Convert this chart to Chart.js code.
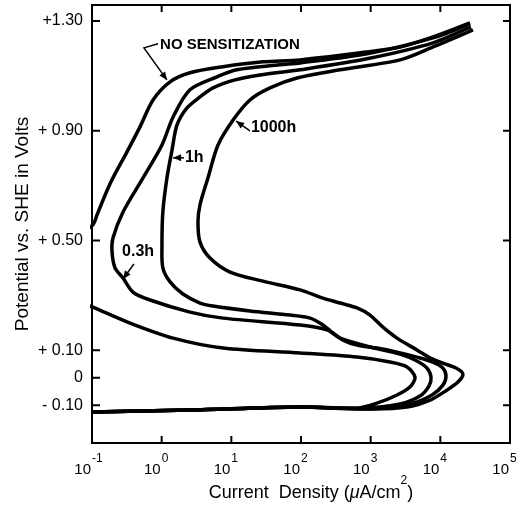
<!DOCTYPE html>
<html>
<head>
<meta charset="utf-8">
<script src="https://cdn.jsdelivr.net/npm/chart.js@4.4.1/dist/chart.umd.min.js"></script>
<style>
  html, body { margin: 0; padding: 0; background: #fff; }
</style>
</head>
<body>
<canvas id="polCurve" width="529" height="514"></canvas>
<script>
// current density (uA/cm2) and potential (V vs SHE)
// each curve runs: cathodic branch -> anodic nose -> passive region -> transpassive
const noSensI = [0.1, 2.55, 97, 637, 1230, 2390, 3660, 4330, 3320, 1890, 637, 97, 7.6, 1.46, 0.351, 0.103, 0.05, 0.05, 0.103, 0.118, 0.181, 0.318, 0.489, 0.752, 1.32, 2.55, 7.6, 28.4, 97, 885, 2640, 7850, 26700];
const noSensE = [-0.125, -0.118, -0.107, -0.111, -0.093, -0.063, -0.034, 0.002, 0.039, 0.057, 0.075, 0.090, 0.108, 0.144, 0.199, 0.257, 0.29, 0.49, 0.557, 0.593, 0.706, 0.823, 0.914, 1.012, 1.078, 1.111, 1.133, 1.151, 1.158, 1.187, 1.205, 1.242, 1.293];

const h03I = [0.1, 2.55, 97, 776, 2640, 5100, 6870, 7350, 6430, 4620, 2640, 977, 363, 236, 97, 7.6, 2.55, 0.681, 0.387, 0.279, 0.214, 0.194, 0.200, 0.279, 0.540, 1.01, 1.46, 2.55, 6.22, 12.0, 49.9, 97, 885, 7850, 26700];
const h03E = [-0.125, -0.118, -0.107, -0.111, -0.096, -0.067, -0.031, 0.002, 0.035, 0.061, 0.086, 0.112, 0.144, 0.174, 0.192, 0.217, 0.239, 0.283, 0.312, 0.363, 0.400, 0.458, 0.509, 0.604, 0.728, 0.848, 0.950, 1.049, 1.096, 1.122, 1.140, 1.147, 1.180, 1.238, 1.289];

const h1I = [0.1, 2.55, 97, 885, 3660, 7590, 10900, 12050, 10900, 7850, 4620, 2390, 1230, 637, 401, 288, 207, 135, 69.5, 18.5, 5.46, 3.55, 2.02, 1.32, 1.04, 1.01, 1.04, 1.19, 1.41, 1.66, 2.31, 3.55, 5.46, 11.3, 25.8, 97, 885, 7850, 27500];
const h1E = [-0.125, -0.118, -0.107, -0.114, -0.096, -0.063, -0.027, 0.006, 0.035, 0.057, 0.075, 0.093, 0.108, 0.119, 0.137, 0.163, 0.192, 0.217, 0.228, 0.243, 0.261, 0.272, 0.305, 0.349, 0.400, 0.483, 0.604, 0.728, 0.830, 0.921, 0.983, 1.023, 1.056, 1.085, 1.103, 1.122, 1.162, 1.220, 1.278];

const h1000I = [0.1, 2.55, 97, 1080, 3320, 7100, 12500, 17900, 21100, 16800, 10900, 7100, 4620, 2390, 1500, 977, 637, 363, 207, 97, 28.4, 9.57, 4.94, 3.55, 3.32, 3.55, 4.62, 6.44, 10.6, 18.5, 35.9, 87.5, 363, 2640, 7850, 29400];
const h1000E = [-0.125, -0.118, -0.107, -0.114, -0.107, -0.082, -0.045, -0.016, 0.013, 0.035, 0.053, 0.072, 0.101, 0.144, 0.184, 0.228, 0.254, 0.272, 0.290, 0.320, 0.352, 0.385, 0.436, 0.494, 0.568, 0.630, 0.728, 0.848, 0.939, 1.012, 1.056, 1.092, 1.122, 1.158, 1.205, 1.267];

const xTickValues = [0.1, 1, 10, 100, 1000, 10000, 100000];
const xTickExponents = ['-1', '0', '1', '2', '3', '4', '5'];
const yTickValues = [-0.10, 0, 0.10, 0.50, 0.90, 1.30];
const yTickLabels = ['- 0.10', '0', '+ 0.10', '+ 0.50', '+ 0.90', '+1.30'];

// curve labels (left edge of text) and their arrows, in data units; last point is the tip
const noteText = ['NO SENSITIZATION', '1h', '1000h', '0.3h'];
const noteX = [0.95, 2.16, 19.1, 0.27];
const noteY = [1.213, 0.801, 0.910, 0.458];
const noteArrows = [
  [[0.885, 1.217], [0.557, 1.202], [1.19, 1.085]],
  [[2.09, 0.801], [1.46, 0.801]],
  [[18.5, 0.899], [11.7, 0.935]],
  [[0.40, 0.414], [0.279, 0.360]]
];

const FONT = '"Liberation Sans", Arial, Helvetica, sans-serif';
Chart.defaults.font.family = FONT;
Chart.defaults.color = '#000';

const toPoints = (xs, ys) => xs.map((v, i) => ({ x: v, y: ys[i] }));
const curve = (label, xs, ys) => ({
  label: label,
  data: toPoints(xs, ys),
  showLine: true,
  borderColor: '#000',
  borderWidth: 3.5,
  pointRadius: 0,
  tension: 0.3,
  fill: false,
  clip: 2
});

/* --------------- frame, inward ticks, decade labels, notes --------------- */
const paperPlugin = {
  id: 'paper',
  afterDatasetsDraw(chart) {
    const { ctx, chartArea: a, scales: { x, y } } = chart;
    ctx.save();
    ctx.strokeStyle = '#000';
    ctx.fillStyle = '#000';
    ctx.lineWidth = 2;
    ctx.strokeRect(a.left, a.top, a.right - a.left, a.bottom - a.top);

    ctx.beginPath();
    xTickValues.slice(1, -1).forEach(v => {
      const px = x.getPixelForValue(v);
      ctx.moveTo(px, a.bottom); ctx.lineTo(px, a.bottom - 7);
      ctx.moveTo(px, a.top); ctx.lineTo(px, a.top + 7);
    });
    yTickValues.forEach(v => {
      const py = y.getPixelForValue(v);
      ctx.moveTo(a.left, py); ctx.lineTo(a.left + 8, py);
      if (v !== 0) { ctx.moveTo(a.right, py); ctx.lineTo(a.right - 7, py); }
    });
    ctx.stroke();

    // 10^n labels
    xTickValues.forEach((v, i) => {
      const px = x.getPixelForValue(v);
      ctx.font = '15px ' + FONT;
      ctx.textAlign = 'right';
      ctx.textBaseline = 'alphabetic';
      ctx.fillText('10', px - 1, a.bottom + 31);
      ctx.font = '12px ' + FONT;
      ctx.textAlign = 'left';
      ctx.fillText(xTickExponents[i], px, a.bottom + 19);
    });

    // x axis title with italic mu and superscript 2
    const base = a.bottom + 55;
    const parts = [
      ['Current  Density (', '18px ' + FONT, 0],
      ['\u03bc', 'italic 18px ' + FONT, 0],
      ['A/cm', '18px ' + FONT, 0],
      ['2', '12px ' + FONT, -14],
      [')', '18px ' + FONT, 0]
    ];
    let total = 0;
    parts.forEach(p => { ctx.font = p[1]; total += ctx.measureText(p[0]).width; });
    let cx = (a.left + a.right) / 2 + 10 - total / 2;
    ctx.textAlign = 'left';
    parts.forEach(p => {
      ctx.font = p[1];
      ctx.fillText(p[0], cx, base + p[2]);
      cx += ctx.measureText(p[0]).width;
    });

    // curve notes
    ctx.lineWidth = 1.5;
    noteArrows.forEach(path => {
      const pts = path.map(p => [x.getPixelForValue(p[0]), y.getPixelForValue(p[1])]);
      ctx.beginPath();
      pts.forEach((p, j) => j ? ctx.lineTo(p[0], p[1]) : ctx.moveTo(p[0], p[1]));
      ctx.stroke();
      const tip = pts[pts.length - 1], prev = pts[pts.length - 2];
      const ang = Math.atan2(tip[1] - prev[1], tip[0] - prev[0]);
      ctx.beginPath();
      ctx.moveTo(tip[0], tip[1]);
      ctx.lineTo(tip[0] - 8 * Math.cos(ang) + 3.5 * Math.sin(ang), tip[1] - 8 * Math.sin(ang) - 3.5 * Math.cos(ang));
      ctx.lineTo(tip[0] - 8 * Math.cos(ang) - 3.5 * Math.sin(ang), tip[1] - 8 * Math.sin(ang) + 3.5 * Math.cos(ang));
      ctx.closePath();
      ctx.fill();
    });
    ctx.textBaseline = 'middle';
    noteText.forEach((t, i) => {
      ctx.font = (i === 0 ? 'bold 15px ' : 'bold 16px ') + FONT;
      ctx.fillText(t, x.getPixelForValue(noteX[i]), y.getPixelForValue(noteY[i]));
    });
    ctx.restore();
  }
};

new Chart(document.getElementById('polCurve'), {
  type: 'scatter',
  data: {
    datasets: [
      curve('NO SENSITIZATION', noSensI, noSensE),
      curve('0.3h', h03I, h03E),
      curve('1h', h1I, h1E),
      curve('1000h', h1000I, h1000E)
    ]
  },
  options: {
    responsive: false,
    animation: false,
    layout: { padding: { top: 5, right: 19, left: 0, bottom: 0 } },
    plugins: { legend: { display: false }, tooltip: { enabled: false } },
    scales: {
      x: {
        type: 'logarithmic',
        min: 0.1,
        max: 100000,
        afterBuildTicks: s => { s.ticks = xTickValues.map(v => ({ value: v })); },
        afterFit: s => { s.height = 71; s.paddingLeft = 0; s.paddingRight = 0; },
        ticks: { display: false },
        grid: { display: false, drawTicks: false },
        border: { display: false }
      },
      y: {
        type: 'linear',
        min: -0.238,
        max: 1.358,
        afterBuildTicks: s => { s.ticks = yTickValues.map(v => ({ value: v })); },
        afterFit: s => { s.width = 92; s.paddingTop = 0; s.paddingBottom = 0; },
        ticks: {
          autoSkip: false,
          padding: 9,
          font: { size: 16 },
          callback: v => yTickLabels[yTickValues.indexOf(v)]
        },
        grid: { display: false, drawTicks: false },
        border: { display: false },
        title: {
          display: true,
          text: 'Potential vs. SHE in Volts',
          font: { size: 19 },
          padding: { top: 11, bottom: 0 }
        }
      }
    }
  },
  plugins: [paperPlugin]
});
</script>
</body>
</html>
